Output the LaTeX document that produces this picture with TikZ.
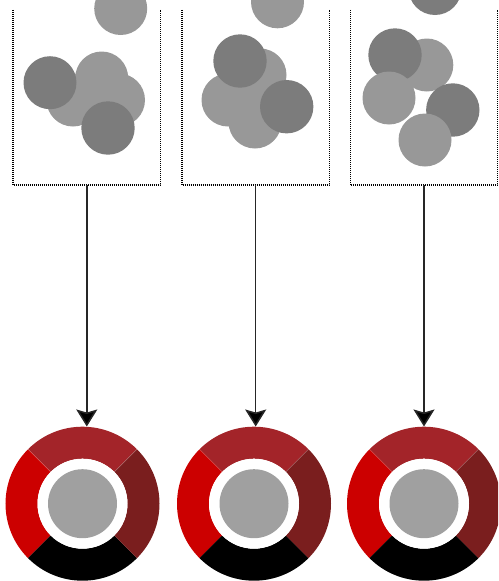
\documentclass[tikz,border=0pt]{standalone}
\usetikzlibrary{arrows.meta}
\definecolor{segtop}{RGB}{163,36,41}
\definecolor{segleft}{RGB}{204,0,0}
\definecolor{segright}{RGB}{122,30,30}
\definecolor{blobdark}{RGB}{124,124,124}
\definecolor{bloblight}{RGB}{152,152,152}
\definecolor{coregrey}{RGB}{160,160,160}
\tikzset{
 dk/.style={fill=blobdark},
 lt/.style={fill=bloblight},
 boxnode/.style={minimum width=147pt, minimum height=175pt, inner sep=0pt, draw=none},
 boxedge/.style={draw=black, line width=1.5pt, dash pattern=on 1pt off 1pt},
 ringnode/.style={circle, minimum size=154pt, inner sep=0pt, draw=none},
 conn/.style={draw=black!85, line width=1.5pt, -{Stealth[length=17pt,width=21pt,inset=3pt,fill=black]}},
}
\begin{document}
\begin{tikzpicture}[x=1pt,y=-1pt]
\useasboundingbox (0,0) rectangle (498,581);
\clip (0,0) rectangle (498,581);
% boxes
\node[boxnode] (bx1) at (86.8,97.5) {};
\node[boxnode] (bx2) at (255.7,97.5) {};
\node[boxnode] (bx3) at (424,97.5) {};
\foreach \b in {bx1,bx2,bx3}{
  \draw[boxedge] (\b.north west) -- (\b.south west) -- (\b.south east) -- (\b.north east);
}
% blobs box 1
\fill[lt] (120.7,8.5) circle[radius=26.5pt];
\fill[lt] (101.7,78) circle[radius=26.5pt];
\fill[lt] (118.5,100) circle[radius=26.5pt];
\fill[lt] (73,100) circle[radius=26.5pt];
\fill[dk] (50,82.7) circle[radius=26.5pt];
\fill[dk] (108,128) circle[radius=26.7pt];
% blobs box 2
\fill[lt] (277.5,1.8) circle[radius=26.5pt];
\fill[lt] (260,75) circle[radius=26.5pt];
\fill[lt] (228,100) circle[radius=26.5pt];
\fill[lt] (255,122) circle[radius=26.5pt];
\fill[dk] (240,61) circle[radius=26.7pt];
\fill[dk] (286.7,106.7) circle[radius=26.7pt];
% blobs box 3
\fill[dk] (435,-11.5) circle[radius=26.5pt];
\fill[lt] (426.8,65) circle[radius=26.5pt];
\fill[dk] (395,55) circle[radius=26.7pt];
\fill[dk] (452.8,110) circle[radius=26.7pt];
\fill[lt] (389,98) circle[radius=26.5pt];
\fill[lt] (425,140) circle[radius=26.5pt];
% rings
\node[ringnode] (r1) at (82.5,503.7) {};
\node[ringnode] (r2) at (254,503.7) {};
\node[ringnode] (r3) at (424,503.7) {};
\foreach \r in {r1,r2,r3}{
  \begin{scope}[shift={(\r.center)}]
    \fill[segtop] (45:45pt) arc[start angle=45,end angle=135,radius=45pt] -- (135:77pt) arc[start angle=135,end angle=45,radius=77pt] -- cycle;
    \fill[segleft] (135:45pt) arc[start angle=135,end angle=225,radius=45pt] -- (225:77pt) arc[start angle=225,end angle=135,radius=77pt] -- cycle;
    \fill[black] (225:45pt) arc[start angle=225,end angle=315,radius=45pt] -- (315:77pt) arc[start angle=315,end angle=225,radius=77pt] -- cycle;
    \fill[segright] (-45:45pt) arc[start angle=-45,end angle=45,radius=45pt] -- (45:77pt) arc[start angle=45,end angle=-45,radius=77pt] -- cycle;
    \foreach \a in {45,135}{\draw[white,opacity=0.25,line width=0.5pt] (\a:45pt) -- (\a:77pt);}
    \fill[white] (0pt,0pt) circle[radius=45pt];
    \fill[coregrey] (0pt,0pt) circle[radius=34.5pt];
  \end{scope}
}
% connectors
\draw[conn] (bx1.south) -- (bx1.south |- r1.north);
\draw[conn] (bx2.south) -- (bx2.south |- r2.north);
\draw[conn] (bx3.south) -- (bx3.south |- r3.north);
\end{tikzpicture}
\end{document}
